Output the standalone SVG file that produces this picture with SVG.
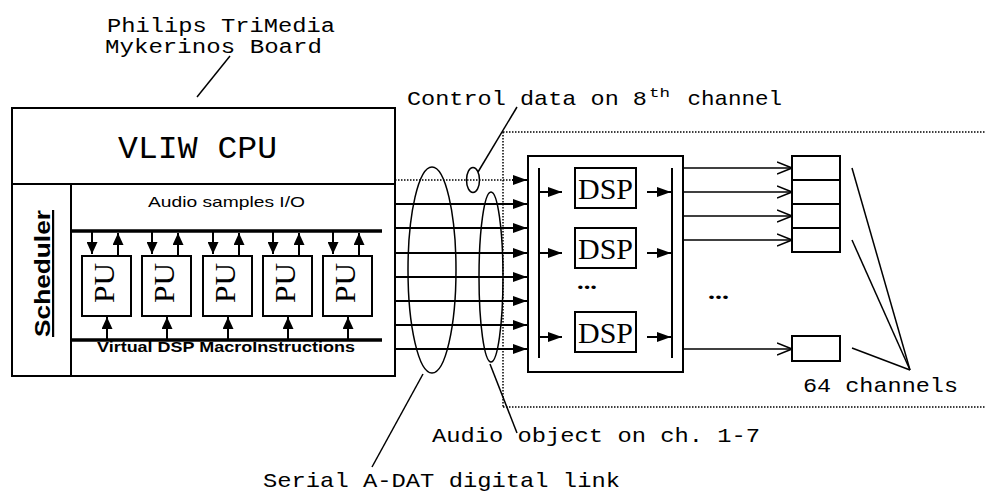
<svg xmlns="http://www.w3.org/2000/svg" width="985" height="493" viewBox="0 0 985 493">
<defs>
<style>
.box{fill:#fff;stroke:#000;stroke-width:2}
.ln{stroke:#000;stroke-width:2;fill:none}
.thin{stroke:#000;stroke-width:1.5;fill:none}
.bus{stroke:#000;stroke-width:3.5;fill:none}
.dot{stroke:#000;stroke-width:1.5;stroke-dasharray:1.5 1.5;fill:none}
.mono{font-family:"Liberation Mono","DejaVu Sans Mono",monospace;fill:#000}
.serif{font-family:"Liberation Serif","DejaVu Serif",serif;fill:#000}
.sans{font-family:"Liberation Sans","DejaVu Sans",sans-serif;fill:#000}
</style>
<marker id="fa" viewBox="0 0 14 10" markerWidth="14" markerHeight="10" refX="14" refY="5" orient="auto" markerUnits="userSpaceOnUse"><path d="M0,0 L14,5 L0,10 z" fill="#000"/></marker>
<marker id="fs" viewBox="0 0 12 11" markerWidth="12" markerHeight="11" refX="12" refY="5.5" orient="auto" markerUnits="userSpaceOnUse"><path d="M0,0 L12,5.5 L0,11 z" fill="#000"/></marker>
<marker id="oa" viewBox="0 0 16 14" markerWidth="16" markerHeight="14" refX="15" refY="7" orient="auto" markerUnits="userSpaceOnUse"><path d="M0,1 L15,7 L0,13" fill="none" stroke="#000" stroke-width="1.5"/></marker>
</defs>
<rect width="985" height="493" fill="#fff"/>

<g id="dotted-region">
<path class="dot" d="M503,132 H985 M503,132 V407 M503,407 H985"/>
</g>

<g id="label-board">
<text class="mono" x="107" y="32" font-size="20" textLength="228" lengthAdjust="spacingAndGlyphs">Philips TriMedia</text>
<text class="mono" x="105" y="53" font-size="20" textLength="217" lengthAdjust="spacingAndGlyphs">Mykerinos Board</text>
</g>
<g id="label-control">
<text class="mono" x="407" y="105" font-size="21"><tspan textLength="240" lengthAdjust="spacingAndGlyphs">Control data on 8</tspan><tspan x="649" dy="-8" font-size="13" textLength="21" lengthAdjust="spacingAndGlyphs">th</tspan><tspan x="674" dy="8" textLength="108" lengthAdjust="spacingAndGlyphs"> channel</tspan></text>
</g>
<g id="label-audio-object">
<text class="mono" x="432" y="442" font-size="21" textLength="328" lengthAdjust="spacingAndGlyphs">Audio object on ch. 1-7</text>
</g>
<g id="label-serial">
<text class="mono" x="263" y="487" font-size="21" textLength="357" lengthAdjust="spacingAndGlyphs">Serial A-DAT digital link</text>
</g>
<g id="label-channels">
<text class="mono" x="803" y="392" font-size="21" textLength="155" lengthAdjust="spacingAndGlyphs">64 channels</text>
</g>

<g id="board">
<rect class="box" x="12" y="108" width="383" height="268"/>
<line class="ln" x1="12" y1="184" x2="395" y2="184"/>
<line class="ln" x1="71" y1="184" x2="71" y2="376"/>
<text class="mono" x="118" y="158" font-size="32" textLength="159" lengthAdjust="spacingAndGlyphs">VLIW CPU</text>
<text class="sans" x="148" y="207" font-size="15" textLength="157" lengthAdjust="spacingAndGlyphs">Audio samples I/O</text>
<text class="sans" x="97" y="352" font-size="15" font-weight="bold" textLength="258" lengthAdjust="spacingAndGlyphs">Virtual DSP MacroInstructions</text>
<line class="bus" x1="71" y1="231" x2="382" y2="231"/>
<line class="bus" x1="71" y1="340" x2="382" y2="340"/>
</g>
<g id="scheduler">
<text class="sans" transform="translate(50,337) rotate(-90)" font-size="22" font-weight="bold" textLength="127" lengthAdjust="spacingAndGlyphs" text-decoration="underline">Scheduler</text>
</g>

<g id="pu1"><rect class="box" x="82" y="256" width="49" height="60"/><text class="serif" transform="translate(114,303) rotate(-90)" font-size="29" textLength="40" lengthAdjust="spacingAndGlyphs">PU</text></g>
<g id="pu2"><rect class="box" x="142" y="256" width="49" height="60"/><text class="serif" transform="translate(174,303) rotate(-90)" font-size="29" textLength="40" lengthAdjust="spacingAndGlyphs">PU</text></g>
<g id="pu3"><rect class="box" x="203" y="256" width="49" height="60"/><text class="serif" transform="translate(235,303) rotate(-90)" font-size="29" textLength="40" lengthAdjust="spacingAndGlyphs">PU</text></g>
<g id="pu4"><rect class="box" x="263" y="256" width="49" height="60"/><text class="serif" transform="translate(295,303) rotate(-90)" font-size="29" textLength="40" lengthAdjust="spacingAndGlyphs">PU</text></g>
<g id="pu5"><rect class="box" x="323" y="256" width="49" height="60"/><text class="serif" transform="translate(355,303) rotate(-90)" font-size="29" textLength="40" lengthAdjust="spacingAndGlyphs">PU</text></g>

<g id="dsp-block">
<rect class="box" x="528" y="156" width="155" height="216"/>
<line class="ln" x1="539" y1="168" x2="539" y2="358"/>
<line class="ln" x1="672" y1="168" x2="672" y2="358"/>
<text class="serif" x="577" y="289" font-size="20" textLength="20" lengthAdjust="spacingAndGlyphs" font-weight="bold">...</text>
</g>
<g id="dsp1"><rect class="box" x="575" y="168" width="61" height="40"/><text class="serif" x="578" y="199" font-size="30" textLength="55" lengthAdjust="spacingAndGlyphs">DSP</text></g>
<g id="dsp2"><rect class="box" x="575" y="228" width="61" height="40"/><text class="serif" x="578" y="259" font-size="30" textLength="55" lengthAdjust="spacingAndGlyphs">DSP</text></g>
<g id="dsp3"><rect class="box" x="575" y="312" width="61" height="40"/><text class="serif" x="578" y="343" font-size="30" textLength="55" lengthAdjust="spacingAndGlyphs">DSP</text></g>

<g id="out-buffer">
<rect class="box" x="792" y="156" width="48" height="96"/>
<line class="ln" x1="792" y1="180" x2="840" y2="180"/>
<line class="ln" x1="792" y1="204" x2="840" y2="204"/>
<line class="ln" x1="792" y1="228" x2="840" y2="228"/>
</g>
<g id="out-last"><rect class="box" x="792" y="336" width="48" height="25"/></g>
<g id="out-dots"><text class="serif" x="708" y="299" font-size="20" textLength="21" lengthAdjust="spacingAndGlyphs" font-weight="bold">...</text></g>

<g id="link-ellipse"><ellipse class="thin" cx="432" cy="270" rx="24" ry="103"/></g>
<g id="object-ellipse"><ellipse class="thin" cx="491" cy="277" rx="12" ry="85"/></g>
<g id="control-ellipse"><ellipse class="thin" cx="473" cy="180" rx="6.5" ry="12.5"/></g>

<g id="connectors">
<g class="ln" stroke-width="2">
<line x1="92" y1="231" x2="92" y2="254" marker-end="url(#fs)"/><line x1="118" y1="256" x2="118" y2="233" marker-end="url(#fs)"/><line x1="107" y1="340" x2="107" y2="317" marker-end="url(#fs)"/>
<line x1="152" y1="231" x2="152" y2="254" marker-end="url(#fs)"/><line x1="178" y1="256" x2="178" y2="233" marker-end="url(#fs)"/><line x1="167" y1="340" x2="167" y2="317" marker-end="url(#fs)"/>
<line x1="213" y1="231" x2="213" y2="254" marker-end="url(#fs)"/><line x1="239" y1="256" x2="239" y2="233" marker-end="url(#fs)"/><line x1="228" y1="340" x2="228" y2="317" marker-end="url(#fs)"/>
<line x1="273" y1="231" x2="273" y2="254" marker-end="url(#fs)"/><line x1="299" y1="256" x2="299" y2="233" marker-end="url(#fs)"/><line x1="288" y1="340" x2="288" y2="317" marker-end="url(#fs)"/>
<line x1="333" y1="231" x2="333" y2="254" marker-end="url(#fs)"/><line x1="359" y1="256" x2="359" y2="233" marker-end="url(#fs)"/><line x1="348" y1="340" x2="348" y2="317" marker-end="url(#fs)"/>
</g>
<line class="dot" x1="395" y1="180" x2="514" y2="180"/>
<line class="ln" x1="512" y1="180" x2="527" y2="180" marker-end="url(#fa)"/>
<line class="ln" x1="395" y1="204" x2="527" y2="204" marker-end="url(#fa)"/>
<line class="ln" x1="395" y1="228" x2="527" y2="228" marker-end="url(#fa)"/>
<line class="ln" x1="395" y1="253" x2="527" y2="253" marker-end="url(#fa)"/>
<line class="ln" x1="395" y1="277" x2="527" y2="277" marker-end="url(#fa)"/>
<line class="ln" x1="395" y1="301" x2="527" y2="301" marker-end="url(#fa)"/>
<line class="ln" x1="395" y1="325" x2="527" y2="325" marker-end="url(#fa)"/>
<line class="ln" x1="395" y1="349" x2="527" y2="349" marker-end="url(#fa)"/>
<line class="ln" x1="539" y1="192" x2="562" y2="192" marker-end="url(#fa)"/>
<line class="ln" x1="539" y1="253" x2="562" y2="253" marker-end="url(#fa)"/>
<line class="ln" x1="539" y1="337" x2="562" y2="337" marker-end="url(#fa)"/>
<line class="ln" x1="647" y1="192" x2="671" y2="192" marker-end="url(#fa)"/>
<line class="ln" x1="647" y1="253" x2="671" y2="253" marker-end="url(#fa)"/>
<line class="ln" x1="647" y1="337" x2="671" y2="337" marker-end="url(#fa)"/>
<line class="thin" x1="683" y1="168" x2="792" y2="168" marker-end="url(#oa)"/>
<line class="thin" x1="683" y1="192" x2="792" y2="192" marker-end="url(#oa)"/>
<line class="thin" x1="683" y1="216" x2="792" y2="216" marker-end="url(#oa)"/>
<line class="thin" x1="683" y1="240" x2="792" y2="240" marker-end="url(#oa)"/>
<line class="thin" x1="683" y1="349" x2="792" y2="349" marker-end="url(#oa)"/>
<line class="thin" x1="197" y1="97" x2="230" y2="56"/>
<line class="thin" x1="478" y1="172" x2="517" y2="107"/>
<line class="thin" x1="423" y1="374" x2="372" y2="467"/>
<line class="thin" x1="490" y1="364" x2="517" y2="433"/>
<line class="thin" x1="852" y1="168" x2="910" y2="370"/>
<line class="thin" x1="852" y1="240" x2="910" y2="370"/>
<line class="thin" x1="852" y1="348" x2="910" y2="370"/>
</g>
</svg>
